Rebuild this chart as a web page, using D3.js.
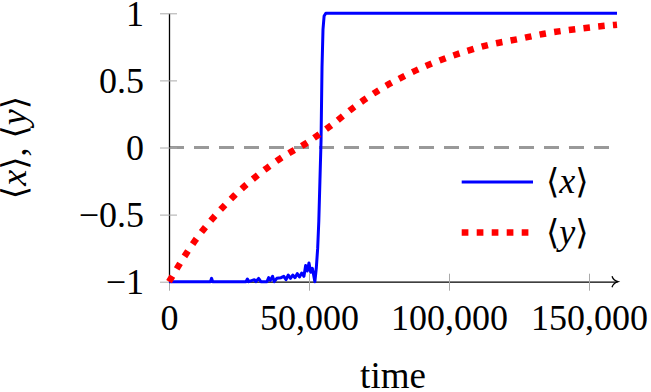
<!DOCTYPE html>
<html>
<head>
<meta charset="utf-8">
<script src="https://cdn.jsdelivr.net/npm/d3@7"></script>
<style>
  body { margin: 0; background: #fff; }
  svg text { font-family: "Liberation Serif", "Times New Roman", "DejaVu Serif", serif; fill: #000; }
</style>
</head>
<body>
<svg id="chart" width="651" height="392"></svg>
<script>
// <x> : fast flip around t ~ 54,000
var xTime = [0, 14800, 15200, 15600, 27500, 28000, 28500, 30500, 31000, 32000, 32800, 35000, 35600, 36200,
  37000, 37600, 38500, 40000, 41000, 41800, 42600, 43400, 44200, 45000, 45800, 46600, 47400, 48200,
  48800, 49400, 50000, 50600, 51200, 52100, 52600, 53100, 53500, 53900, 54300, 54650, 55000, 55400,
  56000, 160000];
var xMean = [-1, -1, -0.975, -1, -1, -0.98, -1, -0.985, -1, -0.975, -1, -1, -0.97, -0.99,
  -0.96, -1, -0.975, -0.97, -0.96, -0.985, -0.95, -0.975, -0.95, -0.97, -0.94, -0.965, -0.935, -0.96,
  -0.88, -0.92, -0.86, -0.93, -0.9, -1, -0.9, -0.75, -0.55, -0.25, 0.05, 0.6, 0.88, 0.98,
  1, 1];

// <y> : slow relaxation
var yTime = [0, 9300, 15960, 23320, 31320, 39890, 49290, 58110, 66070, 75000, 84290, 94040,
  103930, 114040, 124750, 134890, 145610, 156320, 160000];
var yMean = [-1, -0.694, -0.52, -0.359, -0.212, -0.08, 0.036, 0.168, 0.3, 0.428, 0.535, 0.627,
  0.702, 0.764, 0.808, 0.851, 0.883, 0.908, 0.915];

var xTicks = [0, 50000, 100000, 150000];
var yTicks = [-1, -0.5, 0, 0.5, 1];
var legendNames = ["x", "y"];

var serif = "'Liberation Serif', 'Times New Roman', 'DejaVu Serif', serif";

var svg = d3.select("#chart");

var x = d3.scaleLinear().domain([0, 160000]).range([169, 617]);
var y = d3.scaleLinear().domain([-1, 1]).range([281.7, 13.3]);

// zero reference line
svg.append("line")
    .attr("x1", x(0))
    .attr("x2", x(160000))
    .attr("y1", y(0))
    .attr("y2", y(0))
    .style("stroke", "#999")
    .style("stroke-width", 3)
    .style("stroke-dasharray", "15 10");

// axes
var xAxis = svg.append("g")
    .attr("transform", "translate(0," + y(-1) + ")")
    .call(d3.axisBottom(x).tickValues(xTicks).tickFormat(d3.format(",")).tickSizeOuter(0))
    .attr("font-family", serif)
    .attr("font-size", 36);

xAxis.selectAll(".tick line")
    .attr("y1", -8)
    .attr("y2", 9)
    .style("stroke", "#aaa");
xAxis.selectAll(".tick text")
    .attr("y", 48)
    .attr("dy", null);

var yAxis = svg.append("g")
    .attr("transform", "translate(" + x(0) + ",0)")
    .call(d3.axisLeft(y).tickValues(yTicks).tickFormat(d3.format("")).tickSizeOuter(0))
    .attr("font-family", serif)
    .attr("font-size", 36);

yAxis.selectAll(".tick line")
    .attr("x1", 8)
    .attr("x2", -9)
    .style("stroke", "#aaa");
yAxis.selectAll(".tick text")
    .attr("x", -25)
    .attr("dy", "0.33em");

svg.selectAll(".domain")
    .style("stroke", "#000")
    .style("stroke-width", 1.3);

// arrow head on x axis
svg.append("path")
    .attr("transform", "translate(" + (x(160000) + 1) + "," + y(-1) + ")")
    .attr("d", "M-6,-5.5 C-5,-2.5 -2,-0.6 0,0 C-2,0.6 -5,2.5 -6,5.5")
    .style("fill", "none")
    .style("stroke", "#000")
    .style("stroke-width", 1.3);

// series
var line = d3.line()
    .x(d => x(d[0]))
    .y(d => y(d[1]));

svg.append("path")
    .datum(xTime.map((t, i) => [t, xMean[i]]))
    .attr("d", line)
    .style("fill", "none")
    .style("stroke", "#0000ff")
    .style("stroke-width", 3)
    .style("stroke-linejoin", "round");

svg.append("path")
    .datum(yTime.map((t, i) => [t, yMean[i]]))
    .attr("d", line.curve(d3.curveMonotoneX))
    .style("fill", "none")
    .style("stroke", "#ff0000")
    .style("stroke-width", 6.5)
    .style("stroke-dasharray", "6.5 8.3");

// axis titles
svg.append("text")
    .attr("x", (x(0) + x(160000)) / 2)
    .attr("y", 388)
    .style("font-family", serif)
    .style("font-size", "37px")
    .style("text-anchor", "middle")
    .text("time");

function bracketLabel(sel, name) {
  sel.append("tspan").style("font-family", "'DejaVu Serif', 'DejaVu Sans', serif").style("font-size", "0.95em").text("\u27E8");
  sel.append("tspan").style("font-style", "italic").text(name);
  sel.append("tspan").style("font-family", "'DejaVu Serif', 'DejaVu Sans', serif").style("font-size", "0.95em").text("\u27E9");
}

var yTitle = svg.append("text")
    .attr("transform", "translate(26," + y(0) + ") rotate(-90)")
    .style("font-family", serif)
    .style("font-size", "36px")
    .style("text-anchor", "middle");
bracketLabel(yTitle, legendNames[0]);
yTitle.append("tspan").text(", ");
bracketLabel(yTitle, legendNames[1]);

// legend
var legend = svg.append("g");
var legendStyles = [
  { color: "#0000ff", width: 3, dash: null, x2: 533 },
  { color: "#ff0000", width: 6.5, dash: "6.7 8.3", x2: 529 }
];
legendNames.forEach(function(name, i) {
  var ly = 182 + i * 50.5;
  legend.append("line")
      .attr("x1", 461.7)
      .attr("x2", legendStyles[i].x2)
      .attr("y1", ly)
      .attr("y2", ly)
      .style("stroke", legendStyles[i].color)
      .style("stroke-width", legendStyles[i].width)
      .style("stroke-dasharray", legendStyles[i].dash);
  var t = legend.append("text")
      .attr("x", 546)
      .attr("y", ly + 11)
      .style("font-family", serif)
      .style("font-size", "36px");
  bracketLabel(t, name);
});
</script>
</body>
</html>
